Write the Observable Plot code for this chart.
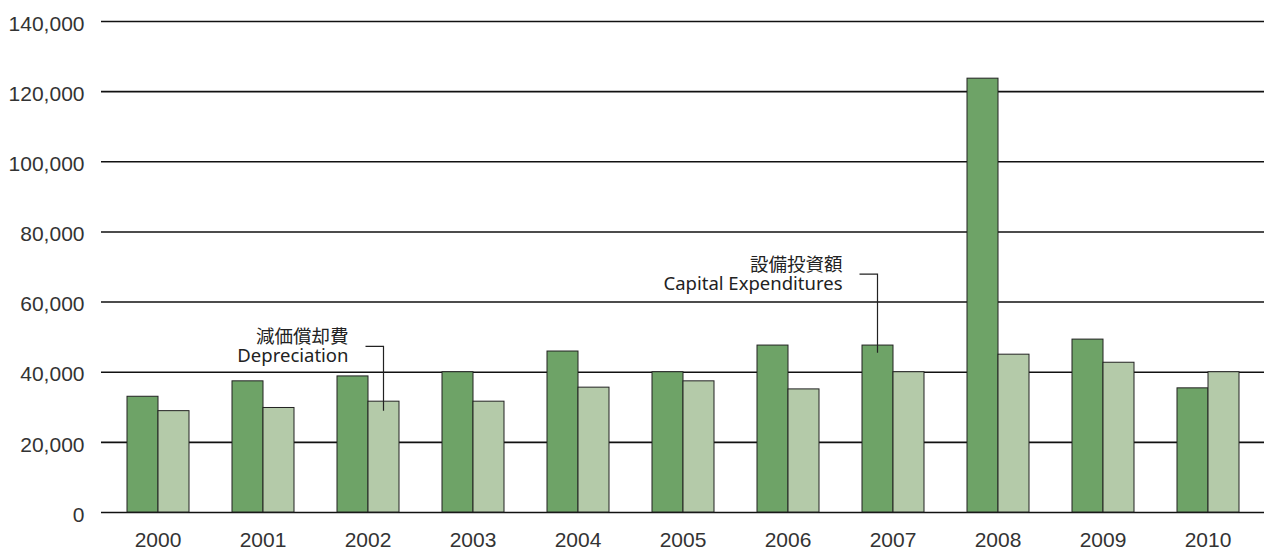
<!DOCTYPE html>
<html>
<head>
<meta charset="utf-8">
<script src="https://cdn.jsdelivr.net/npm/d3@7"></script>
<script src="https://cdn.jsdelivr.net/npm/@observablehq/plot@0.6"></script>
<style>
  html, body { margin: 0; padding: 0; background: #fff; }
  #chart { position: relative; width: 1270px; height: 550px; }
  #chart > svg { position: absolute; left: 0; top: 0; }
</style>
</head>
<body>
<div id="chart"></div>
<script>
// ---- data ----
const years = ["2000","2001","2002","2003","2004","2005","2006","2007","2008","2009","2010"];
const capitalExpenditures = [33000, 37400, 38800, 40000, 45900, 40000, 47600, 47600, 123700, 49300, 35400];
const depreciation = [28900, 29800, 31600, 31600, 35600, 37400, 35100, 40000, 45000, 42700, 40000];
const seriesKeys = ["capex", "depreciation"];
const seriesColors = ["#6ea367", "#b4caa9"];
const yTicks = [0, 20000, 40000, 60000, 80000, 100000, 120000, 140000];

// annotations: leader from label to a bar
const annYears = ["2002", "2007"];
const annSeries = ["depreciation", "capex"];
const annJa = ["減価償却費", "設備投資額"];
const annEn = ["Depreciation", "Capital Expenditures"];
const annElbowY = [47200, 67800];
const annTipY = [28900, 45400];

const table = [];
years.forEach((yr, i) => {
  table.push({year: yr, series: "capex", value: capitalExpenditures[i]});
  table.push({year: yr, series: "depreciation", value: depreciation[i]});
});

const frame = {width: 1270, height: 550, marginLeft: 101, marginRight: 6, marginTop: 21, marginBottom: 38};
const font = {fontFamily: "'Liberation Sans', Arial, sans-serif", fontSize: "21px", color: "#333"};
const fmt = d3.format(",");

// layer 1: y axis and full-width grid lines
const gridPlot = Plot.plot({
  ...frame,
  style: {...font, background: "#fff"},
  x: {axis: null},
  y: {domain: [0, 140000], axis: null},
  marks: [
    Plot.ruleY(yTicks, {stroke: "#111", strokeWidth: 1.6}),
    Plot.axisY({ticks: yTicks, tickFormat: fmt, tickSize: 0, tickPadding: 17, label: null, dy: 2.5, fill: "#333", fontSize: 21})
  ]
});

// layer 2: grouped bars (faceted by year)
const barPlot = Plot.plot({
  ...frame,
  style: {...font, background: "transparent"},
  fx: {domain: years, paddingInner: 0.4, paddingOuter: 0.2, label: null, axis: null},
  x: {axis: null, domain: seriesKeys, padding: 0},
  y: {axis: null, domain: [0, 140000]},
  color: {domain: seriesKeys, range: seriesColors},
  marks: [
    Plot.barY(table, {fx: "year", x: "series", y: "value", fill: "series", stroke: "#222", strokeWidth: 1}),
    Plot.axisFx({anchor: "bottom", tickSize: 0, tickPadding: 20, label: null, fill: "#333", fontSize: 21})
  ]
});

const host = document.getElementById("chart");
host.appendChild(gridPlot);
host.appendChild(barPlot);

// leader-line annotations positioned with the plot's own scales
const fxS = barPlot.scale("fx"), xS = barPlot.scale("x"), yS = barPlot.scale("y");
const g = d3.select(barPlot).append("g").attr("class", "annotations");
annYears.forEach((yr, i) => {
  const cx = fxS.apply(yr) + (xS.apply(annSeries[i]) - xS.range[0]) + xS.bandwidth / 2;
  const ye = yS.apply(annElbowY[i]);
  const yt = yS.apply(annTipY[i]);
  g.append("path")
    .attr("d", `M${cx - 18},${ye}H${cx}V${yt}`)
    .attr("fill", "none").attr("stroke", "#222").attr("stroke-width", 1.2);
  g.append("text")
    .attr("x", cx - 35).attr("y", ye - 3)
    .attr("text-anchor", "end")
    .attr("font-family", "'Noto Sans CJK JP', sans-serif")
    .attr("font-size", 18.5).attr("fill", "#222")
    .text(annJa[i]);
  g.append("text")
    .attr("x", cx - 35).attr("y", ye + 16)
    .attr("text-anchor", "end")
    .attr("font-family", "'Noto Sans', sans-serif")
    .attr("font-size", 18.5).attr("fill", "#222")
    .text(annEn[i]);
});
</script>
</body>
</html>
